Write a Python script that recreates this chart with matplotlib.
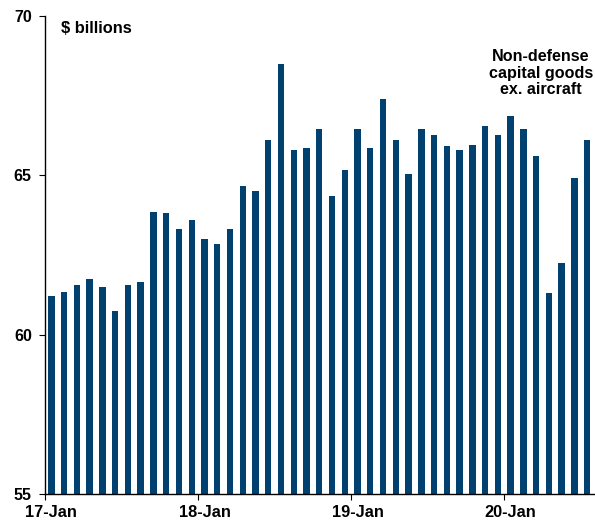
import numpy as np
import matplotlib.pyplot as plt
from matplotlib.ticker import FixedLocator

# monthly orders, Jan 2017 - Jul 2020 ($ billions)
values = [61.2, 61.35, 61.55, 61.75, 61.5, 60.75, 61.55, 61.65,
          63.85, 63.8, 63.3, 63.6,
          63.0, 62.85, 63.3, 64.65, 64.5, 66.1, 68.5, 65.8, 65.85, 66.45, 64.35, 65.15,
          66.45, 65.85, 67.4, 66.1, 65.05, 66.45, 66.25, 65.9, 65.8, 65.95, 66.55, 66.25,
          66.85, 66.45, 65.6, 61.3, 62.25, 64.9, 66.1]
year_labels = ['17-Jan', '18-Jan', '19-Jan', '20-Jan']
year_start = [0, 12, 24, 36]   # bar index of each January

plt.rcParams['font.family'] = ['Liberation Sans', 'DejaVu Sans']
plt.rcParams['font.weight'] = 'bold'

fig = plt.figure(figsize=(5.95, 5.2), dpi=100)
ax = fig.add_axes([0.0756, 0.05, 0.922, 0.9198])

x = np.arange(len(values))
ax.bar(x, values, width=0.5, color='#00416F')

ax.set_ylim(55, 70)
ax.set_xlim(-0.5, len(values) - 0.5)
ax.set_yticks([55, 60, 65, 70])
ax.tick_params(axis='y', length=4, width=0.8, pad=5.5, labelsize=11.5)

# year ticks sit on the category boundary, labels sit under the bar
ax.xaxis.set_major_locator(FixedLocator([i - 0.5 for i in year_start]))
ax.set_xticklabels([])
ax.xaxis.set_minor_locator(FixedLocator(year_start))
ax.set_xticks(year_start, year_labels, minor=True)
ax.tick_params(axis='x', which='major', length=4, width=0.8)
ax.tick_params(axis='x', which='minor', length=0, pad=8, labelsize=11.8)

for s in ['top', 'right']:
    ax.spines[s].set_visible(False)
for s in ['left', 'bottom']:
    ax.spines[s].set_linewidth(1.0)

ax.text(0.03, 0.988, '$ billions', transform=ax.transAxes, fontsize=11.8,
        fontweight='bold', va='top', ha='left')
ax.text(0.904, 0.93, 'Non-defense\ncapital goods\nex. aircraft', transform=ax.transAxes,
        fontsize=11.6, fontweight='bold', va='top', ha='center', linespacing=1.12)

fig.savefig('out.png', dpi=100)
